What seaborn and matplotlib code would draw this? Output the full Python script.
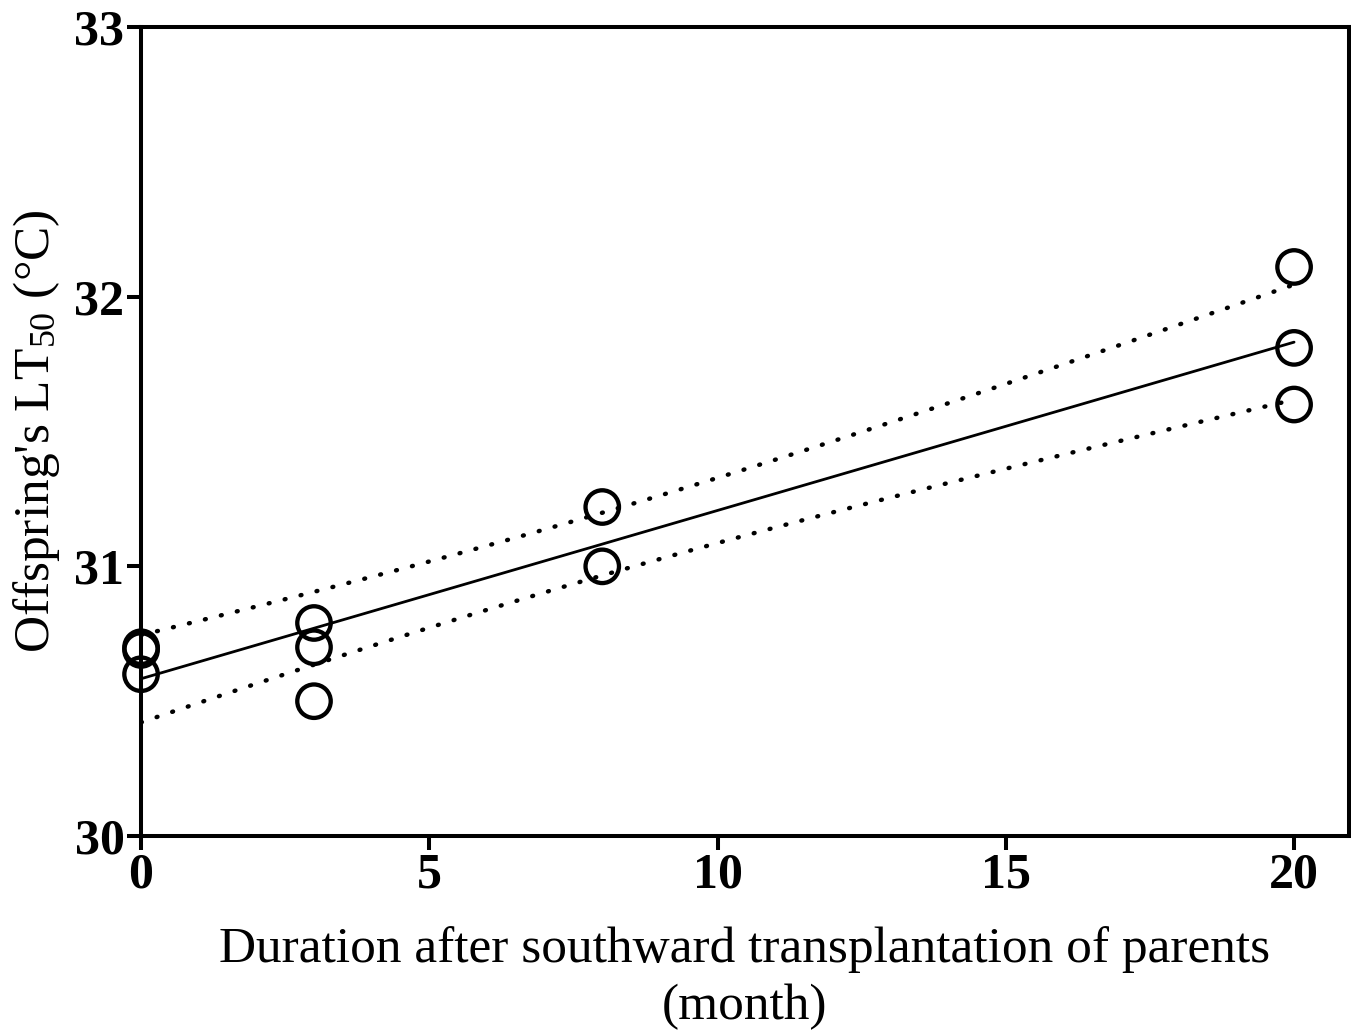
import numpy as np
import pandas as pd
import matplotlib
matplotlib.use("Agg")
import matplotlib.pyplot as plt
import seaborn as sns

# Data
months = [0, 0, 0, 3, 3, 3, 8, 8, 20, 20, 20]
lt50 = [30.70, 30.69, 30.60, 30.79, 30.70, 30.50, 31.22, 31.00, 32.11, 31.81, 31.60]
x_ticks = [0, 5, 10, 15, 20]
y_ticks = [30, 31, 32, 33]

df = pd.DataFrame({"month": months, "lt50": lt50})

sns.set_theme(style="ticks")
plt.rcParams["font.family"] = ["Liberation Serif", "DejaVu Serif"]
plt.rcParams["mathtext.fontset"] = "custom"
plt.rcParams["mathtext.rm"] = "Liberation Serif"
plt.rcParams["mathtext.it"] = "Liberation Serif:italic"
plt.rcParams["mathtext.bf"] = "Liberation Serif:bold"
plt.rcParams["text.color"] = "black"
plt.rcParams["axes.labelcolor"] = "black"
plt.rcParams["xtick.color"] = "black"
plt.rcParams["ytick.color"] = "black"

fig = plt.figure(figsize=(13.51, 10.36), dpi=100)
ax = fig.add_axes([0.1044, 0.193, 0.894, 0.781])

# Regression line
sns.regplot(data=df, x="month", y="lt50", ax=ax, scatter=False, ci=None,
            truncate=True, line_kws=dict(color="black", lw=2.0))

# 95% confidence band of the fitted line (computed from the data)
x = np.asarray(months, float)
y = np.asarray(lt50, float)
n = len(x)
b1, b0 = np.polyfit(x, y, 1)
resid = y - (b0 + b1 * x)
s = np.sqrt(np.sum(resid ** 2) / (n - 2))
sxx = np.sum((x - x.mean()) ** 2)
xs = np.linspace(x.min(), x.max(), 100)
t = 2.262  # t(0.975, df=9)
se = s * np.sqrt(1 / n + (xs - x.mean()) ** 2 / sxx)
fit = b0 + b1 * xs
for band in (fit + t * se, fit - t * se):
    ax.plot(xs, band, color="black", lw=3.2, dashes=(0.2, 3.5),
            dash_capstyle="round")

# Points
sns.scatterplot(data=df, x="month", y="lt50", ax=ax, s=580, marker="o",
                facecolor="none", edgecolor="black", linewidth=3.1, zorder=5,
                clip_on=False)

ax.set_xlim(0, 20.95)
ax.set_ylim(30, 33)
ax.set_xticks(x_ticks)
ax.set_yticks(y_ticks)
ax.set_xticklabels([str(v) for v in x_ticks], fontsize=36, fontweight="bold")
ax.set_yticklabels([str(v) for v in y_ticks], fontsize=36, fontweight="bold")
ax.tick_params(axis="both", direction="out", length=10, width=2.9, color="black",
               pad=2)

for side in ["left", "right", "top", "bottom"]:
    ax.spines[side].set_visible(True)
    ax.spines[side].set_linewidth(2.9)
    ax.spines[side].set_color("black")

ax.set_xlabel("Duration after southward transplantation of parents\n(month)",
              fontsize=37, labelpad=20, linespacing=1.3, color="black")
ax.set_ylabel(r"Offspring's LT$_{50}$ (°C)", fontsize=37, labelpad=9,
              color="black")

fig.savefig("out.png", dpi=100, facecolor="white")
